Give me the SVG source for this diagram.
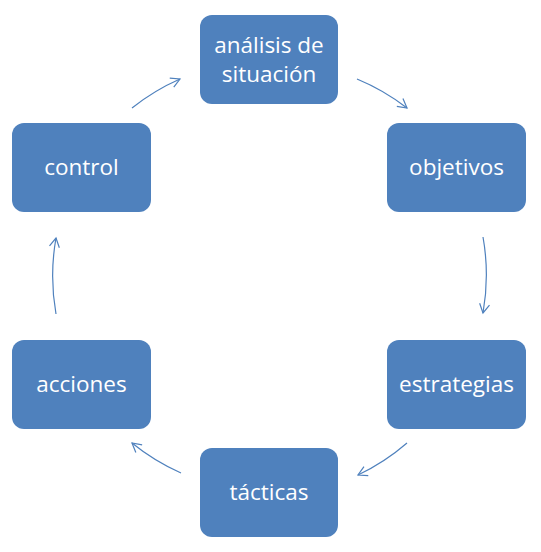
<svg xmlns="http://www.w3.org/2000/svg" width="541" height="552" viewBox="0 0 541 552">
<style>
.box{fill:#4F81BD;}
.lbl{fill:#FFFFFF;font-family:"Open Sans","Liberation Sans",Arial,sans-serif;font-size:22.5px;text-anchor:middle;}
.arc{fill:none;stroke:#4F81BD;stroke-width:1.2;marker-end:url(#ah);}
</style>
<defs>
<marker id="ah" markerUnits="userSpaceOnUse" markerWidth="12" markerHeight="12" refX="10" refY="6" orient="auto" viewBox="0 0 12 12">
<path d="M1,1 L10,6 L1,11" fill="none" stroke="#4F81BD" stroke-width="1.2"/>
</marker>
</defs>
<rect width="541" height="552" fill="#FFFFFF"/>
<g id="connectors">
<path class="arc" d="M132,108 A217,217 0 0 1 180,79"/>
<path class="arc" d="M357,79 A217,217 0 0 1 407,108"/>
<path class="arc" d="M483,237 A217,217 0 0 1 483,313"/>
<path class="arc" d="M407,443 A217,217 0 0 1 358,475"/>
<path class="arc" d="M181,473 A217,217 0 0 1 132,443"/>
<path class="arc" d="M56,314 A217,217 0 0 1 56,238"/>
</g>
<g id="analisis">
<rect class="box" x="200" y="15" width="138" height="89" rx="12"/>
<text class="lbl" x="269" y="53">análisis de</text>
<text class="lbl" x="269" y="82">situación</text>
</g>
<g id="objetivos">
<rect class="box" x="387" y="123" width="139" height="89" rx="12"/>
<text class="lbl" x="456.5" y="175">objetivos</text>
</g>
<g id="estrategias">
<rect class="box" x="387" y="340" width="139" height="89" rx="12"/>
<text class="lbl" x="456.5" y="392">estrategias</text>
</g>
<g id="tacticas">
<rect class="box" x="200" y="448" width="138" height="89" rx="12"/>
<text class="lbl" x="269" y="500">tácticas</text>
</g>
<g id="acciones">
<rect class="box" x="12" y="340" width="139" height="89" rx="12"/>
<text class="lbl" x="81.5" y="392">acciones</text>
</g>
<g id="control">
<rect class="box" x="12" y="123" width="139" height="89" rx="12"/>
<text class="lbl" x="81.5" y="175">control</text>
</g>
</svg>
